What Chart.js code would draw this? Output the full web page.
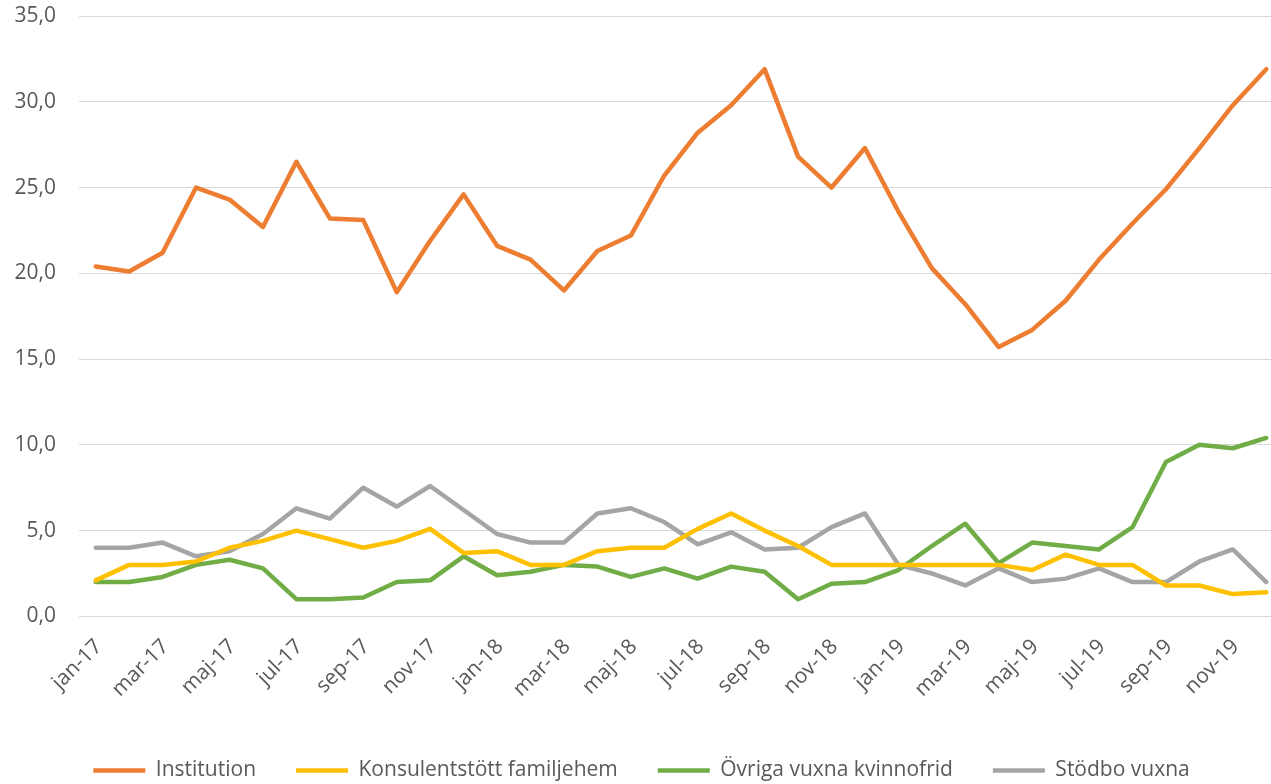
<!DOCTYPE html>
<html>
<head>
<meta charset="utf-8">
<script src="https://cdn.jsdelivr.net/npm/chart.js@4"></script>
<style>
  html, body { margin: 0; padding: 0; background: #fff; overflow: hidden; }
  #wrap { width: 1271px; height: 784px; overflow: hidden; }
</style>
</head>
<body>
<div id="wrap"><canvas id="chart" width="1283" height="784"></canvas></div>
<script>
const months = [
  'jan-17','feb-17','mar-17','apr-17','maj-17','jun-17','jul-17','aug-17','sep-17','okt-17','nov-17','dec-17',
  'jan-18','feb-18','mar-18','apr-18','maj-18','jun-18','jul-18','aug-18','sep-18','okt-18','nov-18','dec-18',
  'jan-19','feb-19','mar-19','apr-19','maj-19','jun-19','jul-19','aug-19','sep-19','okt-19','nov-19','dec-19'
];
const institution = [
  20.4, 20.1, 21.2, 25.0, 24.3, 22.7, 26.5, 23.2, 23.1, 18.9, 21.9, 24.6,
  21.6, 20.8, 19.0, 21.3, 22.2, 25.7, 28.2, 29.8, 31.9, 26.8, 25.0, 27.3,
  23.6, 20.3, 18.2, 15.7, 16.7, 18.4, 20.8, 22.9, 24.9, 27.3, 29.8, 31.9
];
const konsulent = [
  2.1, 3.0, 3.0, 3.2, 4.0, 4.4, 5.0, 4.5, 4.0, 4.4, 5.1, 3.7,
  3.8, 3.0, 3.0, 3.8, 4.0, 4.0, 5.1, 6.0, 5.0, 4.1, 3.0, 3.0,
  3.0, 3.0, 3.0, 3.0, 2.7, 3.6, 3.0, 3.0, 1.8, 1.8, 1.3, 1.4
];
const ovriga = [
  2.0, 2.0, 2.3, 3.0, 3.3, 2.8, 1.0, 1.0, 1.1, 2.0, 2.1, 3.5,
  2.4, 2.6, 3.0, 2.9, 2.3, 2.8, 2.2, 2.9, 2.6, 1.0, 1.9, 2.0,
  2.7, 4.1, 5.4, 3.1, 4.3, 4.1, 3.9, 5.2, 9.0, 10.0, 9.8, 10.4
];
const stodbo = [
  4.0, 4.0, 4.3, 3.5, 3.8, 4.8, 6.3, 5.7, 7.5, 6.4, 7.6, 6.2,
  4.8, 4.3, 4.3, 6.0, 6.3, 5.5, 4.2, 4.9, 3.9, 4.0, 5.2, 6.0,
  3.0, 2.5, 1.8, 2.8, 2.0, 2.2, 2.8, 2.0, 2.0, 3.2, 3.9, 2.0
];
const seriesNames = ['Institution', 'Konsulentstött familjehem', 'Övriga vuxna kvinnofrid', 'Stödbo vuxna'];
const seriesColors = ['#ED7D31', '#FFC000', '#70AD47', '#A5A5A5'];
const yTicks = [0, 5, 10, 15, 20, 25, 30, 35];

const font = { family: '"Open Sans", sans-serif', size: 21 };
const textColor = '#595959';

const datasets = [institution, konsulent, ovriga, stodbo].map((values, i) => ({
  label: seriesNames[i],
  data: values,
  borderColor: seriesColors[i],
  backgroundColor: seriesColors[i],
  borderWidth: 4.5,
  borderCapStyle: 'round',
  borderJoinStyle: 'round',
  pointRadius: 0,
  pointHoverRadius: 0,
  tension: 0
}));

const ctx = document.getElementById('chart').getContext('2d');
new Chart(ctx, {
  type: 'line',
  data: { labels: months, datasets },
  options: {
    responsive: false,
    animation: false,
    layout: { padding: { top: 0, left: 0, right: 0, bottom: -7 } },
    plugins: {
      tooltip: { enabled: false },
      legend: {
        position: 'bottom',
        labels: {
          usePointStyle: true,
          pointStyle: 'line',
          pointStyleWidth: 52,
          color: textColor,
          font,
          padding: 40
        }
      }
    },
    scales: {
      x: {
        offset: true,
        grid: { display: false, drawTicks: false },
        border: { color: '#D9D9D9', width: 1 },
        ticks: {
          color: textColor,
          font,
          autoSkip: false,
          minRotation: 45,
          maxRotation: 45,
          padding: 18,
          labelOffset: 3,
          callback: (v, i) => (i % 2 === 0 ? months[i] : null)
        }
      },
      y: {
        min: 0,
        max: 35,
        afterBuildTicks: (s) => { s.ticks = yTicks.map(v => ({ value: v })); },
        afterFit: (s) => { s.width = 79; s.paddingTop = 16; s.paddingBottom = 12; },
        grid: { color: '#D9D9D9', lineWidth: 1, drawTicks: false },
        border: { display: false },
        ticks: {
          color: textColor,
          font,
          padding: 23,
          callback: (v) => v.toFixed(1).replace('.', ',')
        }
      }
    }
  }
});
</script>
</body>
</html>
